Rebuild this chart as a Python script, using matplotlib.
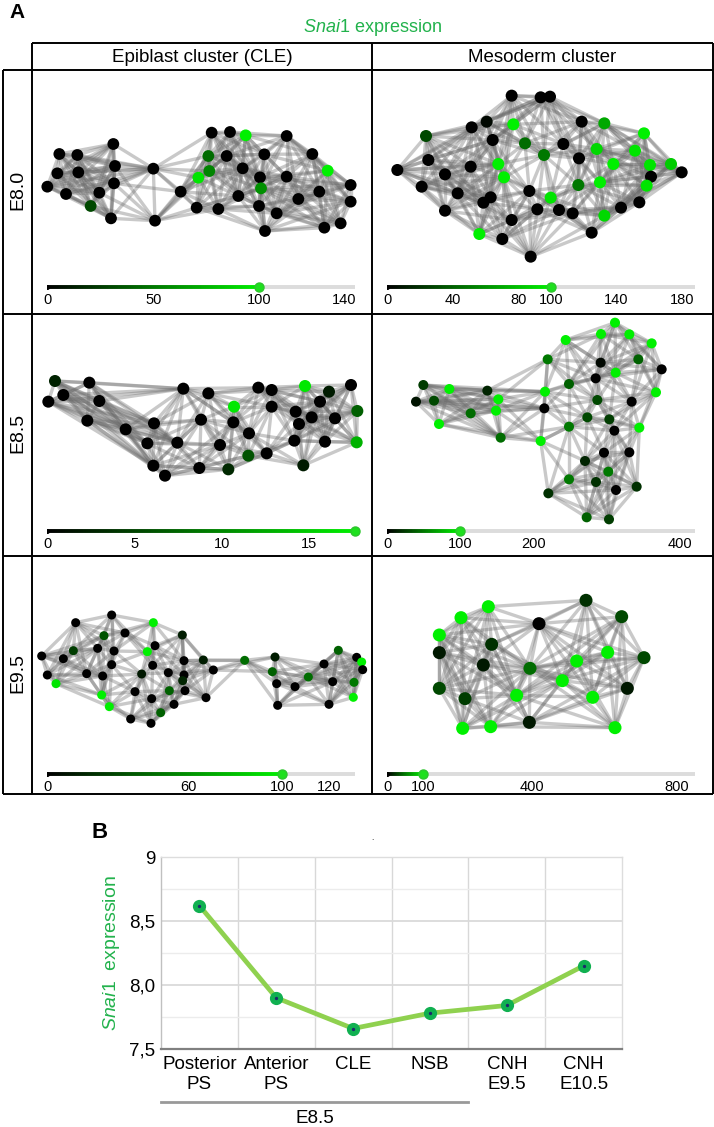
import numpy as np
import matplotlib
matplotlib.use('Agg')
import matplotlib.pyplot as plt
from matplotlib.colors import LinearSegmentedColormap
from matplotlib.collections import LineCollection

plt.rcParams['font.family'] = ['Liberation Sans', 'DejaVu Sans']
plt.rcParams['mathtext.fontset'] = 'custom'
plt.rcParams['mathtext.it'] = 'Liberation Sans:italic'
plt.rcParams['mathtext.rm'] = 'Liberation Sans'

W, H = 714, 1127
TXT_GREEN = '#22b24c'
cmap = LinearSegmentedColormap.from_list('snai1', ['#000000', '#00f000'])

# ---- panel A: node layouts and Snai1 levels per node ----
# E8.0 epiblast (CLE)
e80_epi_x = [88, 142, 250, 82, 145, 255, 52, 108, 208, 252, 182, 243, 370, 375, 452, 500, 545, 600, 647, 535, 590,
             538, 505, 638, 703, 690, 693, 625, 565, 687, 740, 705, 770, 770, 805, 847, 893, 868, 962, 962, 883, 932]
e80_epi_y = [252, 255, 222, 310, 307, 288, 350, 372, 368, 340, 408, 445, 296, 452, 365, 413, 188, 186, 196, 258, 258,
             303, 323, 295, 253, 322, 355, 378, 417, 408, 430, 483, 198, 320, 387, 252, 302, 365, 345, 395, 473, 460]
e80_epi_v = [0, 0, 0, 0, 0, 0, 0, 0, 0, 0, 30, 0, 0, 0, 0, 0, 0, 0, 110, 45, 0,
             55, 95, 0, 0, 0, 60, 0, 0, 0, 0, 0, 0, 0, 0, 0, 110, 0, 0, 0, 0, 0]

# E8.0 mesoderm
e80_mes_x = [425, 512, 540, 350, 305, 430, 168, 368, 465, 580, 635, 703, 822, 680, 795, 522, 627, 175, 82, 225, 302, 385,
             402, 730, 840, 903, 935, 843, 155, 263, 340, 362, 478, 625, 690, 830, 542, 225, 425, 502, 567, 608, 703,
             753, 808, 328, 397, 665, 482]
e80_mes_y = [77, 82, 80, 155, 172, 163, 198, 210, 220, 222, 155, 160, 190, 237, 242, 255, 265, 270, 300, 313, 290, 282,
             322, 282, 285, 282, 307, 320, 350, 370, 398, 382, 363, 345, 337, 347, 383, 422, 450, 418, 420, 430, 437,
             413, 397, 492, 507, 488, 560]
e80_mes_v = [0, 0, 0, 3, 0, 110, 30, 0, 45, 0, 0, 70, 110, 90, 95, 50, 0, 0, 0, 0, 0, 110,
             110, 110, 95, 85, 0, 0, 0, 0, 0, 0, 0, 50, 110, 95, 95, 0, 0, 0, 0, 0, 90,
             0, 0, 110, 0, 0, 0]

# E8.5 epiblast (CLE)
e85_epi_x = [75, 178, 100, 55, 208, 172, 287, 372, 352, 442, 460, 535, 612, 513, 610, 570, 657, 655, 710, 595, 508,
             370, 405, 685, 725, 725, 825, 897, 963, 870, 797, 845, 807, 915, 982, 793, 885, 980, 820]
e85_epi_y = [213, 218, 255, 275, 273, 332, 358, 340, 400, 398, 236, 250, 290, 329, 337, 405, 370, 437, 430, 478, 474,
             467, 497, 233, 240, 290, 228, 245, 225, 275, 305, 322, 342, 325, 303, 392, 395, 397, 466]
e85_epi_v = [2.5, 0, 0, 0, 0, 0, 0, 0, 0, 0, 0, 0, 17, 0, 0, 0, 0, 6, 0, 3, 0,
             0, 0, 0, 0, 0, 17, 2, 0, 0, 0, 0, 0, 0, 7, 0, 0, 13, 2]

# E8.5 mesoderm
e85_mes_x = [735, 693, 778, 587, 845, 533, 692, 805, 875, 737, 677, 597, 858, 160, 238, 138, 192, 352, 385, 525, 378,
             302, 207, 523, 682, 785, 652, 718, 597, 733, 808, 392, 512, 702, 778, 645, 715, 597, 678, 738, 800, 535,
             650, 717]
e85_mes_y = [38, 72, 73, 90, 100, 148, 158, 148, 178, 188, 205, 222, 247, 225, 237, 275, 272, 242, 268, 245, 302,
             310, 342, 295, 270, 275, 322, 328, 350, 362, 353, 383, 393, 428, 427, 453, 485, 508, 516, 540, 530, 550,
             622, 628]
e85_mes_v = [150, 150, 150, 150, 150, 50, 3, 40, 0, 150, 0, 40, 150, 25, 150, 8, 30, 15, 150, 150, 150,
             45, 150, 0, 30, 0, 30, 25, 50, 0, 150, 45, 150, 0, 0, 15, 50, 50, 20, 0, 20, 20,
             40, 25]

# E9.5 epiblast (CLE)
e95_epi_x = [245, 137, 370, 222, 285, 457, 35, 100, 130, 203, 252, 352, 375, 245, 368, 462, 520, 52, 78, 170, 218,
             335, 415, 462, 458, 465, 418, 315, 215, 238, 365, 432, 302, 363, 392, 528, 550, 644, 735, 727, 740, 743,
             795, 835, 882, 925, 980, 995, 998, 908, 972, 897, 970]
e95_epi_y = [210, 233, 233, 272, 264, 270, 333, 341, 317, 310, 318, 320, 302, 359, 361, 347, 345, 390, 416, 386, 393,
             387, 383, 390, 407, 437, 437, 440, 450, 485, 461, 478, 522, 535, 503, 458, 375, 346, 336, 380, 416, 481,
             425, 396, 357, 316, 337, 351, 374, 410, 412, 478, 457]
e95_epi_v = [0, 0, 120, 35, 0, 12, 0, 0, 25, 0, 0, 100, 0, 0, 0, 0, 12, 0, 95, 0, 0,
             10, 0, 0, 15, 0, 40, 0, 100, 100, 0, 0, 0, 0, 40, 0, 0, 45, 12, 40, 0, 0,
             0, 45, 0, 40, 0, 110, 0, 0, 50, 0, 110]

# E9.5 mesoderm
e95_mes_x = [355, 273, 208, 208, 365, 340, 507, 648, 755, 713, 620, 822, 480, 577, 772, 208, 285, 440, 668, 278, 362,
             478, 735]
e95_mes_y = [185, 218, 270, 323, 298, 360, 236, 166, 215, 322, 348, 338, 370, 407, 430, 430, 461, 451, 457, 550, 545,
             532, 548]
e95_mes_v = [110, 110, 110, 10, 20, 10, 0, 20, 30, 110, 110, 30, 45, 110, 10, 30, 25, 110, 110, 110, 110,
             10, 110]

# slider scales: maximum, handle value, tick values
e80_epi_scale = (145, 100, [0, 50, 100, 140])
e80_mes_scale = (188, 100, [0, 40, 80, 100, 140, 180])
e85_epi_scale = (17.6, 17.6, [0, 5, 10, 15])
e85_mes_scale = (420, 100, [0, 100, 200, 400])
e95_epi_scale = (131, 100, [0, 60, 100, 120])
e95_mes_scale = (850, 100, [0, 100, 400, 800])

# ---- panel B ----
stages = ['Posterior\nPS', 'Anterior\nPS', 'CLE', 'NSB', 'CNH\nE9.5', 'CNH\nE10.5']
snai1_expr = [8.62, 7.90, 7.66, 7.78, 7.84, 8.15]

fig = plt.figure(figsize=(W / 100, H / 100), dpi=100)

# background axes in pixel units for the table frame and labels
bg = fig.add_axes([0, 0, 1, 1])
bg.set_xlim(0, W)
bg.set_ylim(H, 0)
bg.axis('off')
lk = dict(color='black', lw=1.4, solid_capstyle='butt')
bg.plot([32, 713], [43, 43], **lk)
bg.plot([3, 713], [70, 70], **lk)
for yy in (314, 556, 794):
    bg.plot([3, 713], [yy, yy], **lk)
bg.plot([3, 3], [70, 794], **lk)
bg.plot([32, 32], [43, 794], **lk)
bg.plot([372, 372], [43, 794], **lk)
bg.plot([713, 713], [43, 794], **lk)

bg.text(9, 13, 'A', fontsize=15, fontweight='bold', va='center')
bg.text(100, 832, 'B', fontsize=16, fontweight='bold', va='center', ha='center')
bg.text(372, 838, '.', fontsize=6, ha='center', va='center')
bg.text(372, 28, r'$\mathit{Snai1}$ expression', color=TXT_GREEN, fontsize=13, ha='center', va='center')
bg.text(202, 57, 'Epiblast cluster (CLE)', fontsize=13.5, ha='center', va='center')
bg.text(542, 57, 'Mesoderm cluster', fontsize=13.5, ha='center', va='center')
for lab, yc in [('E8.0', 190), ('E8.5', 433), ('E9.5', 673)]:
    bg.text(18, yc, lab, fontsize=14, rotation=90, ha='center', va='center')


def edges_of(px, py, k):
    pts = np.column_stack([px, py]).astype(float)
    d = np.hypot(pts[:, None, 0] - pts[None, :, 0], pts[:, None, 1] - pts[None, :, 1])
    pairs = set()
    for i in range(len(pts)):
        for j in np.argsort(d[i])[1:k + 1]:
            pairs.add((min(i, j), max(i, j)))
    return [[pts[i], pts[j]] for i, j in sorted(pairs)]


def network(crop, px, py, pv, scale, size, k):
    x0, y0, w, h = crop
    ax = fig.add_axes([x0 / W, 1 - (y0 + h) / H, w / W, h / H])
    ax.set_xlim(0, 3 * w)
    ax.set_ylim(3 * h, 0)
    ax.axis('off')
    lc = LineCollection(edges_of(px, py, k), colors=[(0.42, 0.42, 0.42, 0.36)], linewidths=2.4)
    ax.add_collection(lc)
    cols = cmap(np.clip(np.array(pv, float) / scale[1], 0, 1))
    ax.scatter(px, py, s=size, c=cols, edgecolors='none', zorder=3)


def slider(xl, xr, yc, scale):
    vmax, hv, ticks = scale
    ax = fig.add_axes([xl / W, 1 - (yc + 4) / H, (xr - xl) / W, 8 / H])
    ax.set_xlim(0, vmax)
    ax.set_ylim(-1, 1)
    for s in ax.spines.values():
        s.set_visible(False)
    ax.set_yticks([])
    ax.set_xticks(ticks)
    ax.set_xticklabels([str(t) for t in ticks])
    ax.tick_params(axis='x', length=0, labelsize=10.5, pad=1.5)
    ax.plot([hv, vmax], [0, 0], color='#dcdcdc', lw=2.8, solid_capstyle='round', zorder=1)
    xs = np.linspace(0, hv, 120)
    segs = [[(xs[i], 0), (xs[i + 1], 0)] for i in range(len(xs) - 1)]
    ax.add_collection(LineCollection(segs, colors=cmap(xs[:-1] / hv), linewidths=2.8, zorder=2))
    ax.plot([0], [0], 'o', color='black', ms=2.6, zorder=2)
    ax.plot([hv], [0], 'o', color='#1ee01e', mec='#2cc52c', ms=6.5, zorder=3, clip_on=False)


network((30, 70, 345, 240), e80_epi_x, e80_epi_y, e80_epi_v, e80_epi_scale, 72, 12)
network((370, 70, 345, 240), e80_mes_x, e80_mes_y, e80_mes_v, e80_mes_scale, 75, 13)
network((30, 310, 345, 240), e85_epi_x, e85_epi_y, e85_epi_v, e85_epi_scale, 75, 11)
network((370, 310, 345, 240), e85_mes_x, e85_mes_y, e85_mes_v, e85_mes_scale, 52, 10)
network((30, 545, 345, 230), e95_epi_x, e95_epi_y, e95_epi_v, e95_epi_scale, 42, 9)
network((370, 545, 345, 230), e95_mes_x, e95_mes_y, e95_mes_v, e95_mes_scale, 88, 11)

slider(47, 355, 287, e80_epi_scale)
slider(387, 695, 287, e80_mes_scale)
slider(47, 355, 531, e85_epi_scale)
slider(387, 695, 531, e85_mes_scale)
slider(47, 355, 774, e95_epi_scale)
slider(387, 695, 774, e95_mes_scale)

# ---- panel B line chart ----
axb = fig.add_axes([161 / W, 1 - 1049 / H, 461 / W, 192 / H])
xpos = np.arange(len(stages))
axb.plot(xpos, snai1_expr, color='#8fd14f', lw=3.4, zorder=3)
axb.plot(xpos, snai1_expr, 'o', color='#10b050', ms=8.5, zorder=4)
axb.plot(xpos, snai1_expr, 'o', color='#1b2a6b', ms=1.4, zorder=5)
axb.set_xlim(-0.5, len(stages) - 0.5)
axb.set_ylim(7.5, 9)
axb.set_yticks([7.5, 8.0, 8.5, 9.0])
axb.set_yticklabels(['7,5', '8,0', '8,5', '9'])
axb.set_yticks([7.75, 8.25, 8.75], minor=True)
axb.set_xticks(xpos)
axb.set_xticklabels(stages)
axb.set_xticks(np.arange(0.5, len(stages) - 1), minor=True)
axb.yaxis.grid(True, which='major', color='#dadada', lw=1.3)
axb.yaxis.grid(True, which='minor', color='#ececec', lw=1)
axb.xaxis.grid(True, which='minor', color='#d8d8d8', lw=1)
axb.tick_params(which='both', length=0, labelsize=13.5)
axb.tick_params(axis='x', pad=5)
axb.tick_params(axis='y', pad=4)
for s in ('top', 'right'):
    axb.spines[s].set_color('#dddddd')
    axb.spines[s].set_linewidth(1)
axb.spines['left'].set_color('#c0c0c0')
axb.spines['left'].set_linewidth(1)
axb.spines['bottom'].set_color('#808080')
axb.spines['bottom'].set_linewidth(1.6)
axb.set_ylabel(r'$\mathit{Snai1}$  expression', color=TXT_GREEN, fontsize=14)
axb.yaxis.set_label_coords(-0.085, 0.5)

# E8.5 bracket under the first four stages
tr = axb.get_xaxis_transform()
axb.plot([-0.5, 3.5], [-0.276, -0.276], color='#999999', lw=2, transform=tr, clip_on=False)
axb.text(1.5, -0.36, 'E8.5', transform=tr, ha='center', va='center', fontsize=13.5)

fig.savefig('out.png', dpi=100)
